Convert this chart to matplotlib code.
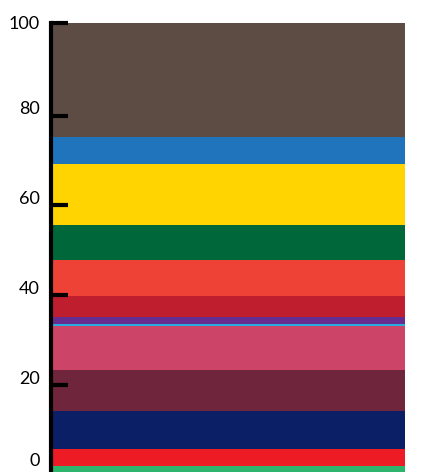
import matplotlib
matplotlib.use("Agg")
import matplotlib.pyplot as plt
import matplotlib.transforms as mtransforms

# segment heights, bottom to top (percent)
segments = [1.3, 3.8, 8.5, 9.1, 9.9, 0.3, 1.7, 4.5, 8.1, 7.7, 13.6, 6.0, 25.5]
colors = ["#2DB56E", "#ED1C24", "#0B1F66", "#6F253B", "#CC4468", "#29ABE2", "#662D91",
          "#BE1E2D", "#EF4237", "#00673A", "#FFD400", "#1F74BC", "#5D4C44"]
ticks = [0, 20, 40, 60, 80, 100]
tick_labels = ["0", "20", "40", "60", "80", "100"]

fig = plt.figure(figsize=(4.25, 4.72), dpi=100)
ax = fig.add_axes([52 / 425, 0.0, (405 - 52) / 425, 1 - 22.7 / 472])

bottom = 0
for h, c in zip(segments, colors):
    ax.bar(0, h, bottom=bottom, width=1.0, color=c, linewidth=0)
    bottom += h

ax.set_xlim(-0.5, 0.5)
ax.set_ylim(0, 100)
ax.set_xticks([])
ax.tick_params(axis="y", direction="in", length=12, width=3, pad=8, color="black",
               labelsize=13, labelfontfamily="Lato")
ax.set_yticks(ticks)
ax.set_yticklabels(tick_labels)
ax.set_axisbelow(False)

for s in ("top", "right", "bottom"):
    ax.spines[s].set_visible(False)
ax.spines["left"].set_linewidth(3)
ax.spines["left"].set_position(("outward", 1))

# the original draws its tick marks a few px below the value, labels a bit above
label_dy = {"0": 12, "100": 0}
for t, lbl in zip(ax.yaxis.get_major_ticks(), tick_labels):
    dy = label_dy.get(lbl, 5)
    t.label1.set_transform(t.label1.get_transform()
                           + mtransforms.ScaledTranslation(0, dy / 100, fig.dpi_scale_trans))
    if lbl != "100":
        t.tick1line.set_transform(t.tick1line.get_transform()
                                  + mtransforms.ScaledTranslation(0, -3 / 100, fig.dpi_scale_trans))

fig.savefig("out.png", dpi=100)
